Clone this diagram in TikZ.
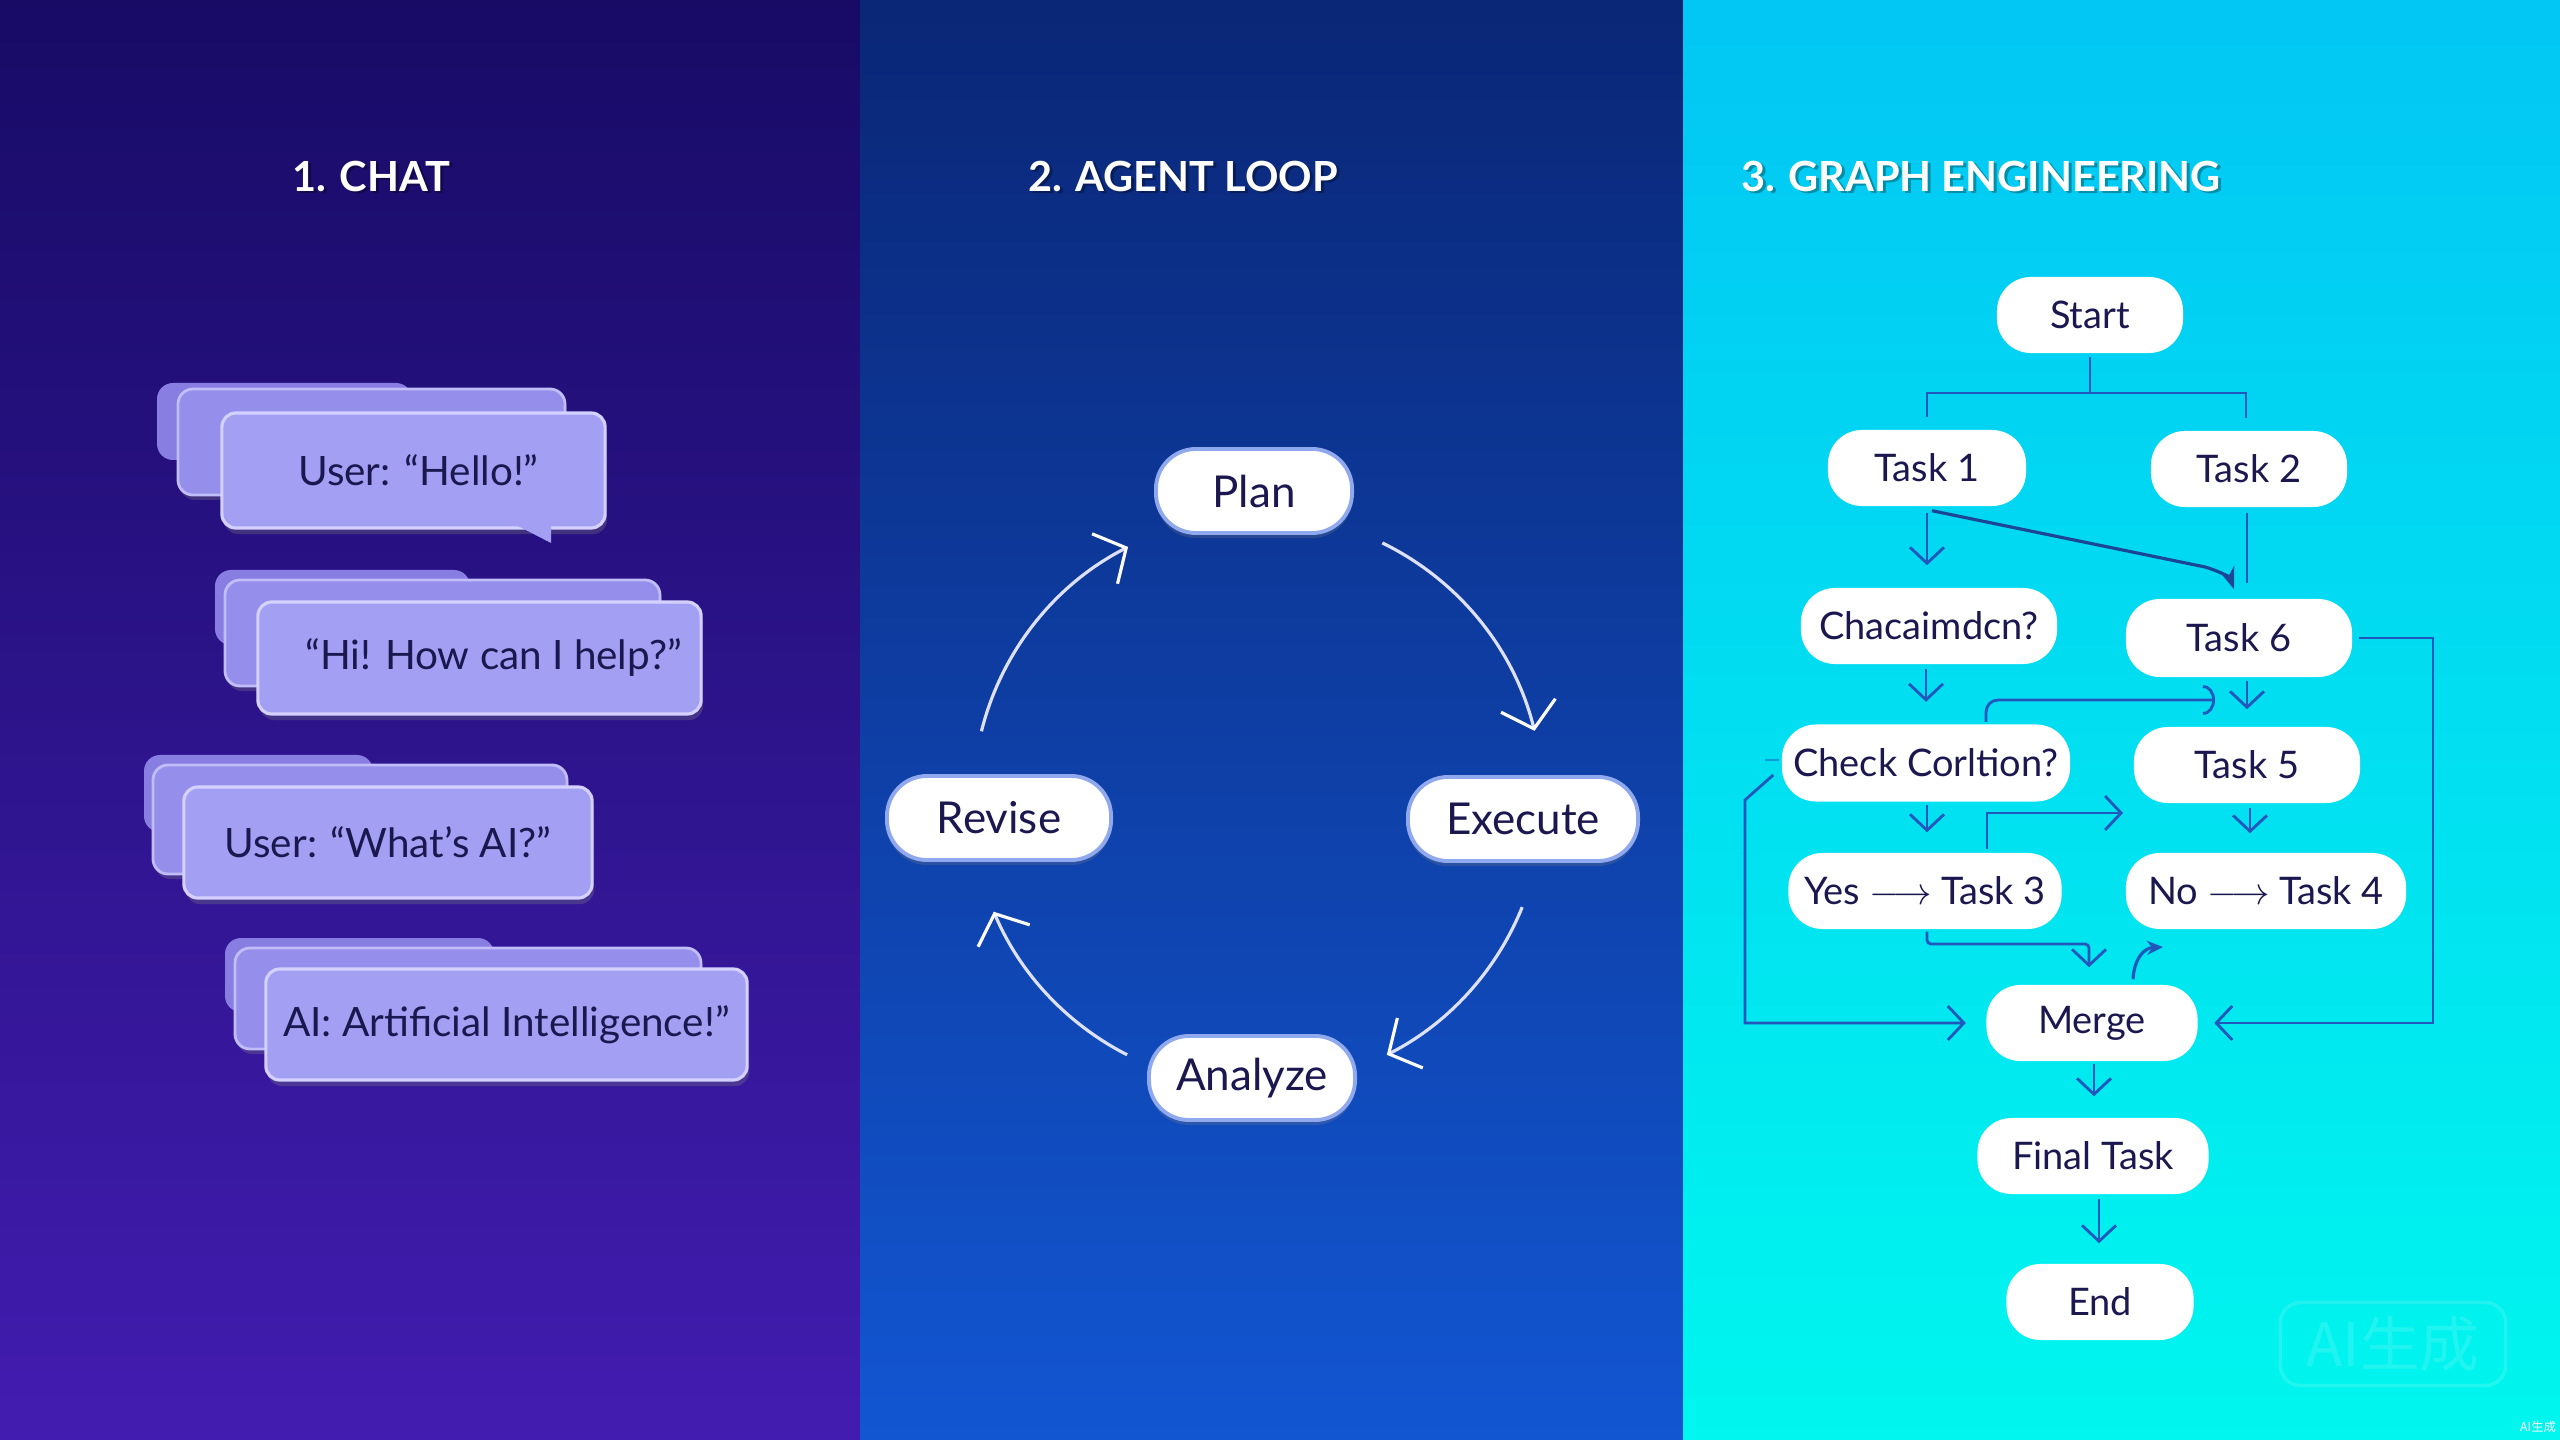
\documentclass[tikz,border=0pt]{standalone}
\usepackage{fontspec}
\setmainfont{Lato}
\newfontfamily\cjk{Noto Sans CJK SC}
\usetikzlibrary{arrows.meta,calc,shadows}
\definecolor{pAtop}{HTML}{170B66}
\definecolor{pAbot}{HTML}{421CB0}
\definecolor{pBtop}{HTML}{0A2676}
\definecolor{pBbot}{HTML}{1256D2}
\definecolor{pCtop}{HTML}{02C6F4}
\definecolor{pCbot}{HTML}{00F6EE}
\definecolor{ink}{HTML}{1B1850}
\definecolor{bubfarc}{HTML}{887DE0}
\definecolor{bubmidc}{HTML}{968EEB}
\definecolor{bubfrontc}{HTML}{A39FF2}
\definecolor{bubedge}{HTML}{D4D1FF}
\definecolor{loopborder}{HTML}{8FA8EE}
\definecolor{loopwhite}{HTML}{DDE1FF}
\definecolor{flowblue}{HTML}{2258BC}
\begin{document}
\begin{tikzpicture}[x=0.01cm,y=-0.01cm,
  paneltitle/.style={text=white,font=\bfseries\fontsize{11.8}{14}\selectfont,inner sep=0},
  titleshadow/.style={text=black,text opacity=0.3,font=\bfseries\fontsize{11.8}{14}\selectfont,inner sep=0},
  bubfar/.style={fill=bubfarc,rounded corners=0.16cm},
  bubmid/.style={fill=bubmidc,draw=bubedge!70!bubmidc,line width=0.8pt,rounded corners=0.15cm,
     drop shadow={opacity=0.3,shadow xshift=0.02cm,shadow yshift=-0.05cm}},
  bubfront/.style={fill=bubfrontc,draw=bubedge,line width=0.9pt,rounded corners=0.14cm,inner sep=0,
     text=ink,font=\fontsize{11.5}{14}\selectfont,
     drop shadow={opacity=0.3,shadow xshift=0.02cm,shadow yshift=-0.06cm}},
  bubtail/.style={fill=bubfrontc},
  loopnode/.style={draw=loopborder,line width=1.1pt,fill=white,rounded corners=0.4cm,minimum height=0.84cm,
     inner sep=0,text=ink,font=\fontsize{12.5}{15}\selectfont,
     drop shadow={opacity=0.25,shadow xshift=0cm,shadow yshift=-0.05cm}},
  looparrow/.style={draw=loopwhite,line width=0.9pt,-{Straight Barb[length=2.4mm,width=5.6mm,color=white]}},
  flownode/.style={fill=white,rounded corners=0.34cm,minimum height=0.76cm,inner sep=0,text=ink,
     font=\fontsize{10.8}{12}\selectfont},
  flowline/.style={draw=flowblue,line width=0.8pt},
  flowarrow/.style={flowline,-{Straight Barb[length=1.6mm,width=3.4mm]}}
]
\useasboundingbox (0,0) rectangle (2560,1440);
% ---------- backgrounds ----------
\shade[top color=pAtop,bottom color=pAbot] (0,0) rectangle (860,1440);
\shade[top color=pBtop,bottom color=pBbot] (860,0) rectangle (1683,1440);
\shade[top color=pCtop,bottom color=pCbot] (1683,0) rectangle (2560,1440);
% ---------- titles ----------
\node[titleshadow] (t1s) at (374,179) {1. CHAT};
\node[paneltitle] (title1) at (371,177) {1. CHAT};
\node[titleshadow] (t2s) at (1186,179) {2. AGENT LOOP};
\node[paneltitle] (title2) at (1183,177) {2. AGENT LOOP};
\node[titleshadow] (t3s) at (1984,179) {3. GRAPH ENGINEERING};
\node[paneltitle] (title3) at (1981,177) {3. GRAPH ENGINEERING};
% ---------- panel 1: chat bubbles ----------
% bubble 1
\fill[bubfar] (157,383) rectangle (412,460);
\path[bubmid] (178,389) rectangle (565,495);
\node[bubfront,minimum width=3.83cm,minimum height=1.15cm] (b1) at (413.5,470.5) {\hspace{0.1cm}User: “Hello!”};
\fill[bubtail] (518,526) -- (551,526) -- (551,543) -- cycle;
% bubble 2
\fill[bubfar] (215,570) rectangle (470,645);
\path[bubmid] (225,580) rectangle (660,686);
\node[bubfront,minimum width=4.43cm,minimum height=1.12cm] (b2) at (479.5,658) {\hspace{0.28cm}“Hi! How can I help?”};
% bubble 3
\fill[bubfar] (144,755) rectangle (373,832);
\path[bubmid] (153,765) rectangle (567,874);
\node[bubfront,minimum width=4.08cm,minimum height=1.11cm] (b3) at (388,842.5) {User: “What's AI?”};
% bubble 4
\fill[bubfar] (225,938) rectangle (494,1012);
\path[bubmid] (235,948) rectangle (701,1049);
\node[bubfront,minimum width=4.81cm,minimum height=1.11cm] (b4) at (506.5,1024.5) {AI: Artificial Intelligence!”};
% ---------- panel 2: agent loop ----------
\node[loopnode,minimum width=1.96cm] (plan) at (1254,491) {Plan};
\node[loopnode,minimum width=2.30cm] (exec) at (1523,819) {Execute};
\node[loopnode,minimum width=2.24cm] (revise) at (999,818) {Revise};
\node[loopnode,minimum width=2.06cm] (analyze) at (1252,1078) {Analyze};
\coordinate (loopc) at (1257,800);
\draw[looparrow] ($(loopc)+(-64:286)$) arc[start angle=-64,end angle=-14,radius=286];
\draw[looparrow] ($(loopc)+(22:286)$) arc[start angle=22,end angle=63,radius=286];
\draw[looparrow] ($(loopc)+(117:286)$) arc[start angle=117,end angle=157,radius=286];
\draw[looparrow] ($(loopc)+(194:284)$) arc[start angle=194,end angle=243,radius=284];
% ---------- panel 3: graph ----------
\node[flownode,minimum width=1.86cm] (start) at (2090,315) {Start};
\node[flownode,minimum width=1.98cm] (task1) at (1927,468) {Task 1};
\node[flownode,minimum width=1.96cm] (task2) at (2249,469) {Task 2};
\node[flownode,minimum width=2.56cm] (chac) at (1929,626) {Chacaimdcn?};
\node[flownode,minimum width=2.26cm,minimum height=0.78cm] (task6) at (2239,638) {Task 6};
\node[flownode,minimum width=2.88cm,minimum height=0.77cm] (check) at (1926,763) {Check Corltion?};
\node[flownode,minimum width=2.26cm] (task5) at (2247,765) {Task 5};
\node[flownode,minimum width=2.73cm] (yes) at (1925,891) {Yes \ensuremath{\longrightarrow} Task 3};
\node[flownode,minimum width=2.80cm] (no) at (2266,891) {No \ensuremath{\longrightarrow} Task 4};
\node[flownode,minimum width=2.11cm] (merge) at (2092,1023) {Merge};
\node[flownode,minimum width=2.31cm] (final) at (2093,1156) {Final Task};
\node[flownode,minimum width=1.87cm] (endn) at (2100,1302) {End};
% start split
\coordinate (split) at (2090,393);
\draw[flowline] ([yshift=-0.03cm]start.south) -- (split) -| ([yshift=0.12cm]task1.north);
\draw[flowline] (split) -| ([xshift=-0.03cm,yshift=0.12cm]task2.north);
% task1 -> chac
\draw[flowarrow,shorten >=0.22cm] ([yshift=-0.06cm]task1.south) -- (chac.north -| task1.south);
% task1 -> task6 diagonal
\draw[draw=flowblue!80!black,line width=0.9pt,-{Stealth[length=2.2mm,width=1.6mm]}]
  ([xshift=0.05cm,yshift=-0.04cm]task1.south) -- (2205,567) .. controls (2222,572) and (2230,578) .. ([xshift=-0.05cm,yshift=0.09cm]task6.north);
% task2 -> task6 (line)
\draw[flowline] ([xshift=-0.02cm,yshift=-0.05cm]task2.south) -- ([xshift=-0.02cm,yshift=0.15cm]task2.south |- task6.north);
% task6 -> merge via right
\coordinate (rx) at (2433,638);
\draw[flowarrow,shorten >=0.16cm] ([xshift=0.06cm]task6.east) -- (rx) |- (merge.east);
% chac -> check
\draw[flowarrow,shorten >=0.22cm] ([yshift=-0.04cm]chac.south -| check.north) -- (check.north);
% task6 -> task5
\draw[flowarrow,shorten >=0.17cm] ([yshift=-0.03cm]task5.north |- task6.south) -- (task5.north);
% check -> toward task5
\coordinate (c5in) at (2215,700);
\draw[flowline,rounded corners=0.12cm,-{Arc Barb[length=1.2mm,width=3mm]}] ([xshift=0.6cm,yshift=0.02cm]check.north) |- (c5in);
% check left stub and loop to merge
\draw[flowline,draw opacity=0.5] ([xshift=-0.02cm,yshift=0.03cm]check.west) -- ++(-14,0);
\coordinate (lx) at (1745,800);
\draw[flowarrow,shorten >=0.2cm] ([xshift=-0.08cm,yshift=-0.12cm]check.west) -- (lx) |- (merge.west);
% check -> yes
\draw[flowarrow,shorten >=0.2cm] ([xshift=0.01cm,yshift=-0.03cm]check.south) -- ([xshift=0.01cm]yes.north -| check.south);
% task5 -> no
\draw[flowarrow,shorten >=0.19cm] ([xshift=0.03cm,yshift=-0.04cm]task5.south) -- ([xshift=0.03cm]no.north -| task5.south);
% yes -> toward task5/no gap
\coordinate (c5b) at (2123,813);
\draw[flowarrow] ([xshift=0.62cm,yshift=0.03cm]yes.north) |- (c5b);
% yes -> merge
\draw[flowarrow,rounded corners=0.04cm,shorten >=0.17cm] ([xshift=0.02cm,yshift=-0.02cm]yes.south) |- (2089,944) -- ([xshift=-0.03cm]merge.north);
% merge -> no (hook)
\draw[flowline,line width=0.9pt,-{Stealth[length=1.6mm,width=1.4mm]}] ([xshift=0.41cm,yshift=0.05cm]merge.north) .. controls (2134,960) and (2143,948) .. (2163,947);
% merge -> final -> end
\draw[flowarrow,shorten >=0.21cm] ([xshift=0.02cm,yshift=-0.02cm]merge.south) -- ([xshift=0.02cm]final.north -| merge.south);
\draw[flowarrow,shorten >=0.2cm] ([xshift=0.06cm,yshift=-0.04cm]final.south) -- ([xshift=0.06cm]endn.north -| final.south);
% ---------- watermark ----------
\node[draw=white,draw opacity=0.13,line width=1pt,rounded corners=0.2cm,minimum width=2.25cm,minimum height=0.83cm,
  text=white,text opacity=0.13,font=\cjk\fontsize{17}{20}\selectfont] (wm) at (2393,1344) {AI生成};
\node[text=white,inner sep=0,font=\cjk\fontsize{3.5}{4}\selectfont] (wm2) at (2538,1427) {AI生成};
\end{tikzpicture}
\end{document}
